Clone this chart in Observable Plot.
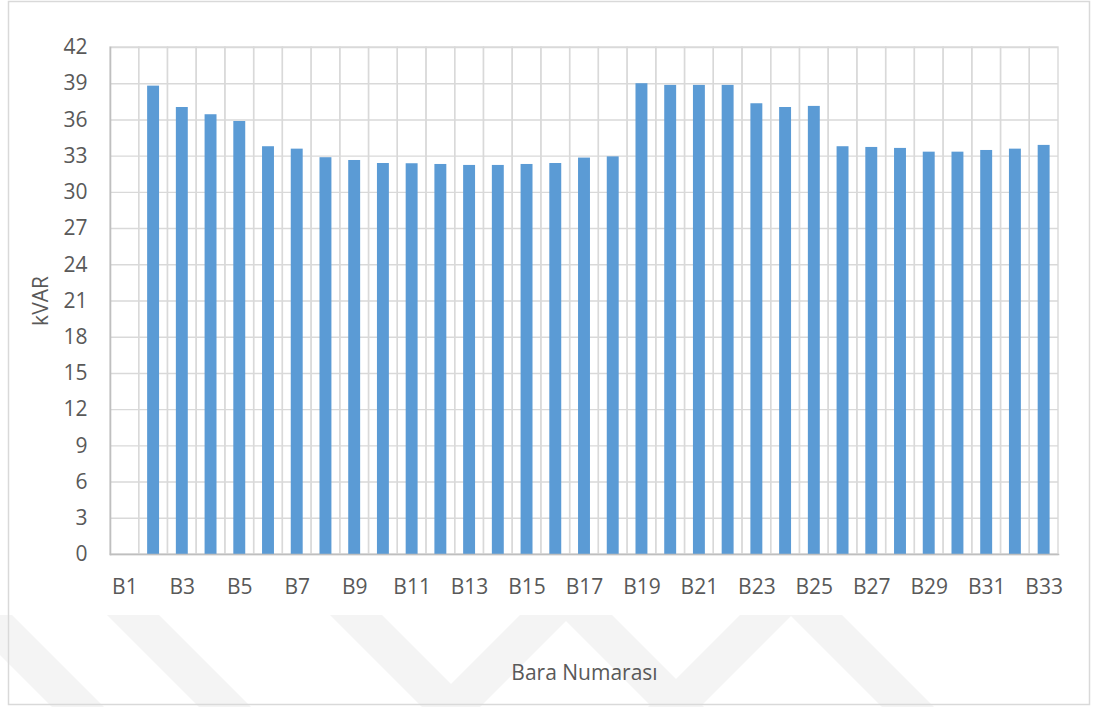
<!DOCTYPE html>
<html>
<head>
<meta charset="utf-8">
<script src="https://cdn.jsdelivr.net/npm/d3@7"></script>
<script src="https://cdn.jsdelivr.net/npm/@observablehq/plot@0.6"></script>
<style>
  html, body { margin: 0; padding: 0; background: #fff; }
  #chart { position: relative; width: 1094px; height: 707px; }
</style>
</head>
<body>
<div id="chart"></div>
<script>
// Categories (bus numbers)
const categories = ["B1","B2","B3","B4","B5","B6","B7","B8","B9","B10","B11","B12","B13","B14","B15","B16","B17","B18","B19","B20","B21","B22","B23","B24","B25","B26","B27","B28","B29","B30","B31","B32","B33"];
// kVAR values (B1 has no bar)
const values = [0, 38.80, 37.03, 36.43, 35.87, 33.78, 33.58, 32.87, 32.64, 32.39, 32.37, 32.31, 32.23, 32.23, 32.31, 32.39, 32.84, 32.94, 39.00, 38.86, 38.86, 38.86, 37.34, 37.03, 37.12, 33.78, 33.72, 33.64, 33.33, 33.33, 33.47, 33.58, 33.89];
// Tick labels
const xTicks = ["B1","B3","B5","B7","B9","B11","B13","B15","B17","B19","B21","B23","B25","B27","B29","B31","B33"];
const yTicks = [0,3,6,9,12,15,18,21,24,27,30,33,36,39,42];
const xLabel = "Bara Numarası";
const yLabel = "kVAR";

const data = categories.map((c, i) => ({bar: c, value: values[i]}));

const plot = Plot.plot({
  width: 1094,
  height: 707,
  marginLeft: 110,
  marginRight: 36,
  marginTop: 47,
  marginBottom: 153,
  style: {fontFamily: "'Open Sans', sans-serif", fontSize: "21px", color: "#595959", background: "transparent", overflow: "visible"},
  x: {type: "band", domain: categories, padding: 0, round: false},
  y: {domain: [0, 42]},
  marks: [
    Plot.ruleY(yTicks, {stroke: "#d9d9d9", strokeWidth: 1.4}),
    Plot.barY(categories, {x: d => d, y1: 0, y2: 42, fill: "none", stroke: "#d9d9d9", strokeWidth: 1.4}),
    Plot.barY(data, {x: "bar", y: "value", fill: "#5b9bd5", insetLeft: 8.4, insetRight: 8.4}),
    Plot.frame({anchor: "left", stroke: "#bfbfbf", strokeWidth: 1.6}),
    Plot.frame({anchor: "bottom", stroke: "#bfbfbf", strokeWidth: 1.6}),
    Plot.axisY({ticks: yTicks, tickSize: 0, tickPadding: 23, label: yLabel, labelAnchor: "center", labelOffset: 77, labelArrow: "none"}),
    Plot.axisX({ticks: xTicks, tickSize: 0, tickPadding: 25, label: xLabel, labelAnchor: "center", labelOffset: 125, labelArrow: "none"})
  ]
});

const svg = d3.select(plot);
// faint watermark stripes behind everything
const wm = svg.insert("g", ":first-child").attr("fill", "#f4f4f4");
const stripesBack = [-40, 107, 330, 560, 790];
stripesBack.forEach(x0 => {
  wm.append("polygon").attr("points", `${x0},615 ${x0+52},615 ${x0+144},707 ${x0+92},707`);
});
const stripesFwd = [520, 740];
stripesFwd.forEach(x0 => {
  wm.append("polygon").attr("points", `${x0},615 ${x0+52},615 ${x0-40},707 ${x0-92},707`);
});
// outer chart border
svg.append("rect").attr("x", 8.5).attr("y", 1.5).attr("width", 1081).attr("height", 703)
  .attr("fill", "none").attr("stroke", "#d9d9d9").attr("stroke-width", 1.5);

document.getElementById("chart").appendChild(plot);
</script>
</body>
</html>
